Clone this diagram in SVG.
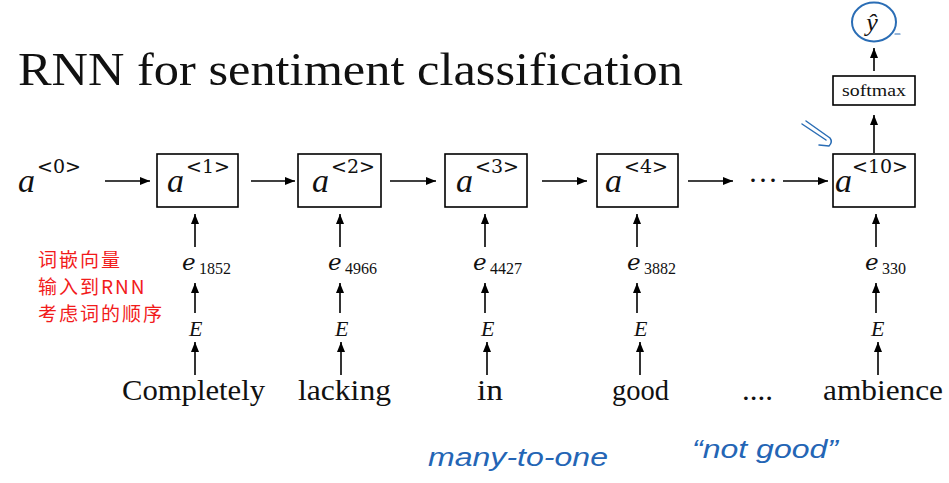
<svg xmlns="http://www.w3.org/2000/svg" width="949" height="483" viewBox="0 0 949 483">
<defs>
<style>
.bg{fill:#fff}
.box{fill:#fff;stroke:#000;stroke-width:1.6}
.ln{stroke:#000;stroke-width:1.6;fill:none}
.title{font-family:"Liberation Serif",serif;font-size:46px;fill:#111}
.ai{font-family:"Liberation Serif",serif;font-style:italic;font-size:34px;fill:#111}
.sup{font-family:"DejaVu Serif","Liberation Serif",serif;font-size:19px;fill:#111}
.ei{font-family:"DejaVu Serif","Liberation Serif",serif;font-style:italic;font-size:23px;fill:#111}
.sub{font-family:"Liberation Serif",serif;font-size:16px;fill:#111}
.Ei{font-family:"Liberation Serif",serif;font-style:italic;font-size:22px;fill:#111}
.word{font-family:"Liberation Serif",serif;font-size:30px;fill:#111}
.sm{font-family:"Liberation Serif",serif;font-size:17px;fill:#111}
.red{font-family:"Noto Sans CJK SC","Noto Sans",sans-serif;font-size:19px;fill:#f21b1b;letter-spacing:2px}
.blue{font-family:"Liberation Sans",sans-serif;font-style:italic;font-size:25px;fill:#2465b5}
.bstroke{stroke:#2a6db5;stroke-width:2;fill:none;stroke-linecap:round;stroke-linejoin:round}
</style>
<marker id="ah" viewBox="0 0 10 8" refX="10" refY="4" markerWidth="10" markerHeight="8" markerUnits="userSpaceOnUse" orient="auto">
<path d="M0,0 L10,4 L0,8 z" fill="#000"/>
</marker>
</defs>
<rect class="bg" x="0" y="0" width="949" height="483"/>

<g id="title"><text class="title" x="18" y="85" textLength="665" lengthAdjust="spacingAndGlyphs">RNN for sentiment classification</text></g>

<g id="a0"><text x="18" y="192"><tspan class="ai">a</tspan><tspan class="sup" x="37" dy="-19">&lt;0&gt;</tspan></text></g>

<g id="box1"><rect class="box" x="157" y="154" width="81" height="53"/><text x="167" y="192"><tspan class="ai">a</tspan><tspan class="sup" x="186" dy="-19">&lt;1&gt;</tspan></text></g>
<g id="box2"><rect class="box" x="298" y="154" width="83" height="53"/><text x="312" y="192"><tspan class="ai">a</tspan><tspan class="sup" x="331" dy="-19">&lt;2&gt;</tspan></text></g>
<g id="box3"><rect class="box" x="445" y="154" width="82" height="53"/><text x="456" y="192"><tspan class="ai">a</tspan><tspan class="sup" x="475" dy="-19">&lt;3&gt;</tspan></text></g>
<g id="box4"><rect class="box" x="597" y="154" width="81" height="53"/><text x="605" y="192"><tspan class="ai">a</tspan><tspan class="sup" x="624" dy="-19">&lt;4&gt;</tspan></text></g>
<g id="dots"><text class="word" x="748" y="190">···</text></g>
<g id="box10"><rect class="box" x="833" y="154" width="82" height="53"/><text x="835" y="192"><tspan class="ai">a</tspan><tspan class="sup" x="852" dy="-19">&lt;10&gt;</tspan></text></g>

<g id="softmax"><rect class="box" x="833" y="76" width="82" height="29"/><text class="sm" x="874" y="96" text-anchor="middle" textLength="64" lengthAdjust="spacingAndGlyphs">softmax</text></g>
<g id="yhat"><text x="872" y="31" text-anchor="middle" style="font-family:'Liberation Serif',serif;font-style:italic;font-size:26px;fill:#111">ŷ</text><ellipse class="bstroke" cx="874" cy="22" rx="22" ry="19.5"/><path class="bstroke" d="M895,34 L900,34" style="stroke-width:1.2"/></g>

<g id="e1"><text class="ei" x="182" y="270">e</text><text class="sub" x="199" y="274">1852</text></g>
<g id="e2"><text class="ei" x="328" y="270">e</text><text class="sub" x="345" y="274">4966</text></g>
<g id="e3"><text class="ei" x="473" y="270">e</text><text class="sub" x="490" y="274">4427</text></g>
<g id="e4"><text class="ei" x="627" y="270">e</text><text class="sub" x="644" y="274">3882</text></g>
<g id="e5"><text class="ei" x="865" y="270">e</text><text class="sub" x="882" y="274">330</text></g>

<g id="E1"><text class="Ei" x="189" y="336">E</text></g>
<g id="E2"><text class="Ei" x="335" y="336">E</text></g>
<g id="E3"><text class="Ei" x="481" y="336">E</text></g>
<g id="E4"><text class="Ei" x="634" y="336">E</text></g>
<g id="E5"><text class="Ei" x="871" y="336">E</text></g>

<g id="w1"><text class="word" x="122" y="400" textLength="143" lengthAdjust="spacingAndGlyphs">Completely</text></g>
<g id="w2"><text class="word" x="298" y="400" textLength="93" lengthAdjust="spacingAndGlyphs">lacking</text></g>
<g id="w3"><text class="word" x="477" y="400" textLength="26" lengthAdjust="spacingAndGlyphs">in</text></g>
<g id="w4"><text class="word" x="612" y="400" textLength="57" lengthAdjust="spacingAndGlyphs">good</text></g>
<g id="w5"><text class="word" x="742" y="400" textLength="31" lengthAdjust="spacingAndGlyphs">....</text></g>
<g id="w6"><text class="word" x="823" y="400" textLength="120" lengthAdjust="spacingAndGlyphs">ambience</text></g>

<g id="note-red">
<text class="red" x="38" y="267">词嵌向量</text>
<text class="red" x="38" y="294">输入到RNN</text>
<text class="red" x="38" y="321">考虑词的顺序</text>
</g>

<g id="note-blue">
<text class="blue" x="428" y="466" textLength="180" lengthAdjust="spacingAndGlyphs">many-to-one</text>
<text class="blue" x="692" y="458" textLength="146" lengthAdjust="spacingAndGlyphs">“not good”</text>
<path class="bstroke" d="M802,124 L826,140 M806,121 L830,138 Q833,142 829,146 L819,145" style="stroke-width:1.5"/>
</g>

<g id="connectors">
<line class="ln" x1="105" y1="181" x2="150" y2="181" marker-end="url(#ah)"/>
<line class="ln" x1="251" y1="181" x2="295" y2="181" marker-end="url(#ah)"/>
<line class="ln" x1="390" y1="181" x2="436" y2="181" marker-end="url(#ah)"/>
<line class="ln" x1="542" y1="181" x2="587" y2="181" marker-end="url(#ah)"/>
<line class="ln" x1="688" y1="181" x2="733" y2="181" marker-end="url(#ah)"/>
<line class="ln" x1="783" y1="181" x2="828" y2="181" marker-end="url(#ah)"/>

<line class="ln" x1="195" y1="247" x2="195" y2="214" marker-end="url(#ah)"/>
<line class="ln" x1="340" y1="247" x2="340" y2="214" marker-end="url(#ah)"/>
<line class="ln" x1="485" y1="247" x2="485" y2="214" marker-end="url(#ah)"/>
<line class="ln" x1="637" y1="247" x2="637" y2="214" marker-end="url(#ah)"/>
<line class="ln" x1="876" y1="247" x2="876" y2="214" marker-end="url(#ah)"/>

<line class="ln" x1="195" y1="313" x2="195" y2="283" marker-end="url(#ah)"/>
<line class="ln" x1="340" y1="313" x2="340" y2="283" marker-end="url(#ah)"/>
<line class="ln" x1="485" y1="313" x2="485" y2="283" marker-end="url(#ah)"/>
<line class="ln" x1="637" y1="313" x2="637" y2="283" marker-end="url(#ah)"/>
<line class="ln" x1="876" y1="313" x2="876" y2="283" marker-end="url(#ah)"/>

<line class="ln" x1="195" y1="375" x2="195" y2="342" marker-end="url(#ah)"/>
<line class="ln" x1="341" y1="375" x2="341" y2="342" marker-end="url(#ah)"/>
<line class="ln" x1="487" y1="375" x2="487" y2="342" marker-end="url(#ah)"/>
<line class="ln" x1="640" y1="375" x2="640" y2="342" marker-end="url(#ah)"/>
<line class="ln" x1="878" y1="375" x2="878" y2="342" marker-end="url(#ah)"/>

<line class="ln" x1="874" y1="153" x2="874" y2="115" marker-end="url(#ah)"/>
<line class="ln" x1="874" y1="71" x2="874" y2="48" marker-end="url(#ah)"/>
</g>
</svg>
